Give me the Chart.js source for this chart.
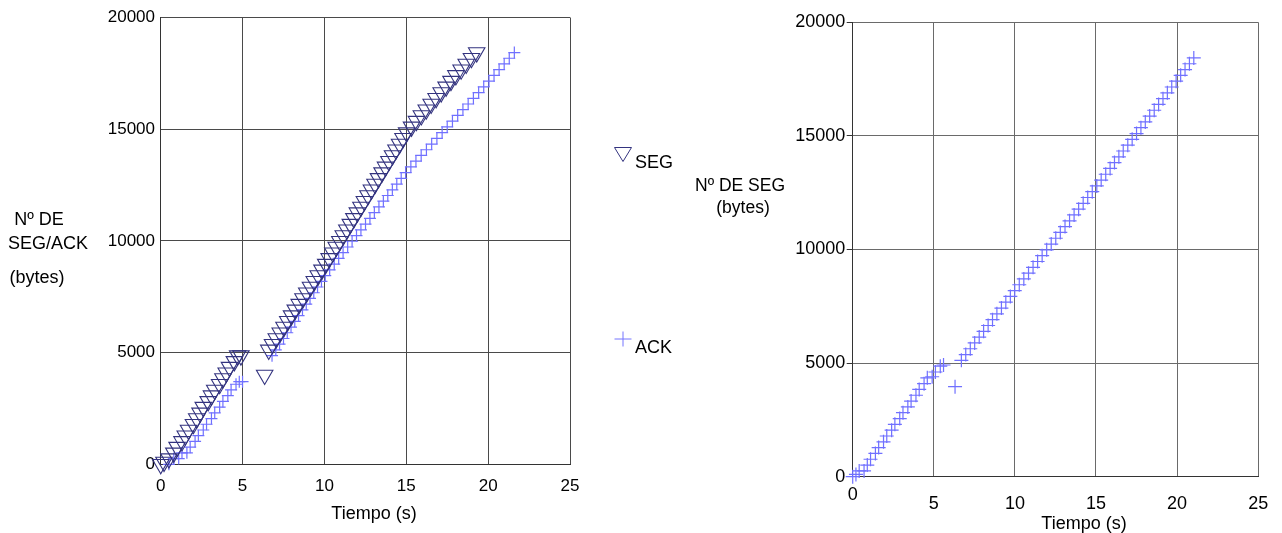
<!DOCTYPE html>
<html>
<head>
<meta charset="utf-8">
<script src="https://cdn.jsdelivr.net/npm/chart.js@4"></script>
<style>
  body { margin: 0; background: #fff; width: 1282px; height: 533px; position: relative; overflow: hidden;
         font-family: "Liberation Sans", Arial, sans-serif; color: #000; }
  canvas { position: absolute; top: 0; }
  .lbl { position: absolute; white-space: nowrap; transform: translate(-50%, -50%); font-size: 18px; line-height: 1; }
  .lft { transform: translate(0, -50%); }
  svg { position: absolute; left: 0; top: 0; }
</style>
</head>
<body>
<canvas id="left" width="600" height="533" style="left:0"></canvas>
<canvas id="right" width="582" height="533" style="left:700px"></canvas>

<!-- axis titles -->
<div class="lbl" style="left:39px; top:219px">Nº DE</div>
<div class="lbl" style="left:48px; top:243px">SEG/ACK</div>
<div class="lbl" style="left:37px; top:277px">(bytes)</div>
<div class="lbl" style="left:374px; top:513px">Tiempo (s)</div>

<div class="lbl lft" style="left:695px; top:186px; font-size:17.5px">Nº DE SEG</div>
<div class="lbl" style="left:743px; top:208px; font-size:17.5px">(bytes)</div>
<div class="lbl" style="left:1084px; top:523px">Tiempo (s)</div>

<!-- legend -->
<svg width="1282" height="533">
  <polygon points="614.5,147.5 631.5,147.5 623,161.5" fill="none" stroke="#33337f" stroke-width="1"/>
  <line x1="614.5" y1="339" x2="631.5" y2="339" stroke="#7474ff" stroke-width="1"/>
  <line x1="623" y1="331.5" x2="623" y2="346.5" stroke="#7474ff" stroke-width="1"/>
</svg>
<div class="lbl lft" style="left:635px; top:162px">SEG</div>
<div class="lbl lft" style="left:635px; top:347px">ACK</div>

<script>
// segments sent (left plot)
const segTime = [
  0.0, 0.2, 0.5, 0.8, 1.0, 1.3, 1.5, 1.7, 2.0, 2.2, 2.4, 2.6, 2.9, 3.1, 3.3, 3.6, 3.8, 4.0, 4.2, 4.5, 4.7, 4.9,
  6.35,
  6.60, 6.83, 7.06, 7.30, 7.53, 7.76, 7.99, 8.22, 8.46, 8.69, 8.92, 9.15, 9.38, 9.62, 9.85, 10.08, 10.29, 10.51,
  10.72, 10.94, 11.15, 11.37, 11.58, 11.80, 12.01, 12.23, 12.44, 12.66, 12.87, 13.09, 13.30, 13.52, 13.73, 13.94,
  14.16, 14.37, 14.59, 14.80, 15.02, 15.32, 15.62, 15.92, 16.22, 16.52, 16.82, 17.13, 17.43, 17.73, 18.03, 18.35,
  18.66, 18.98, 19.30
];
const segBytes = [
  0, 100, 256, 512, 768, 1024, 1280, 1536, 1792, 2048, 2304, 2560, 2816, 3072, 3328, 3584, 3840, 4096, 4352, 4608, 4864, 4864,
  4000,
  5120, 5376, 5632, 5888, 6144, 6400, 6656, 6912, 7168, 7424, 7680, 7936, 8192, 8448, 8704, 8960, 9216, 9472,
  9728, 9984, 10240, 10496, 10752, 11008, 11264, 11520, 11776, 12032, 12288, 12544, 12800, 13056, 13312, 13568,
  13824, 14080, 14336, 14592, 14848, 15104, 15360, 15616, 15872, 16128, 16384, 16640, 16896, 17152, 17408, 17664,
  17920, 18176, 18432
];

// acks received (left plot)
const ackTime = [
  0.5, 0.8, 1.1, 1.3, 1.6, 1.8, 2.1, 2.3, 2.6, 2.8, 3.1, 3.3, 3.6, 3.8, 4.1, 4.3, 4.6, 4.8, 5.0,
  6.80, 7.03, 7.26, 7.50, 7.73, 7.96, 8.19, 8.42, 8.66, 8.89, 9.12, 9.35, 9.58, 9.82, 10.05, 10.32, 10.60, 10.87,
  11.14, 11.42, 11.69, 11.96, 12.23, 12.51, 12.78, 13.05, 13.33, 13.60, 13.87, 14.15, 14.42, 14.69, 14.96, 15.28,
  15.59, 15.91, 16.23, 16.55, 16.87, 17.19, 17.50, 17.82, 18.14, 18.46, 18.78, 19.10, 19.42, 19.73, 20.05, 20.36,
  20.67, 20.98, 21.29, 21.60
];
const ackBytes = [
  0, 256, 256, 512, 512, 768, 1024, 1280, 1536, 1792, 2048, 2304, 2560, 2816, 3072, 3328, 3584, 3700, 3700,
  4864, 5120, 5376, 5632, 5888, 6144, 6400, 6656, 6912, 7168, 7424, 7680, 7936, 8192, 8448, 8704, 8960, 9216,
  9472, 9728, 9984, 10240, 10496, 10752, 11008, 11264, 11520, 11776, 12032, 12288, 12544, 12800, 13056, 13312,
  13568, 13824, 14080, 14336, 14592, 14848, 15104, 15360, 15616, 15872, 16128, 16384, 16640, 16896, 17152, 17408,
  17664, 17920, 18176, 18432
];

// second run, segments only (right plot)
const runTime = [
  0.0, 0.2, 0.4, 0.7, 0.9, 1.1, 1.4, 1.6, 1.9, 2.1, 2.4, 2.6, 2.9, 3.1, 3.4, 3.6, 3.9, 4.1, 4.4, 4.6, 4.9, 5.1, 5.4, 5.6,
  6.31,
  6.70, 6.97, 7.25, 7.52, 7.80, 8.07, 8.35, 8.62, 8.89, 9.17, 9.44, 9.72, 9.99, 10.27, 10.55, 10.84, 11.12, 11.40,
  11.68, 11.96, 12.24, 12.52, 12.80, 13.09, 13.37, 13.65, 13.93, 14.21, 14.49, 14.77, 15.05, 15.32, 15.60, 15.87,
  16.14, 16.41, 16.68, 16.96, 17.23, 17.50, 17.77, 18.04, 18.31, 18.59, 18.86, 19.13, 19.40, 19.67, 19.94, 20.22,
  20.49, 20.76, 21.03
];
const runBytes = [
  0, 100, 256, 256, 512, 768, 1024, 1280, 1536, 1792, 2048, 2304, 2560, 2816, 3072, 3328, 3584, 3840, 4096, 4352, 4400, 4608, 4864, 4916,
  3961,
  5120, 5376, 5632, 5888, 6144, 6400, 6656, 6912, 7168, 7424, 7680, 7936, 8192, 8448, 8704, 8960, 9216, 9472,
  9728, 9984, 10240, 10496, 10752, 11008, 11264, 11520, 11776, 12032, 12288, 12544, 12800, 13056, 13312, 13568,
  13824, 14080, 14336, 14592, 14848, 15104, 15360, 15616, 15872, 16128, 16384, 16640, 16896, 17152, 17408, 17664,
  17920, 18176, 18432
];

const xTicks = [0, 5, 10, 15, 20, 25];
const yTicks = [0, 5000, 10000, 15000, 20000];

const SEG_COLOR = '#33337f';
const ACK_COLOR = '#7070ff';

Chart.defaults.font.family = "'Liberation Sans', Arial, sans-serif";
Chart.defaults.color = '#000';

function pts(xs, ys) {
  return xs.map((x, i) => ({ x: x, y: ys[i] }));
}

function segSet(xs, ys) {
  return {
    label: 'SEG', data: pts(xs, ys), clip: false, showLine: false,
    pointStyle: 'triangle', pointRotation: 180, pointRadius: 9.5,
    pointBorderColor: SEG_COLOR, pointBackgroundColor: 'rgba(0,0,0,0)', pointBorderWidth: 1.1
  };
}

function ackSet(xs, ys, r) {
  return {
    label: 'ACK', data: pts(xs, ys), clip: false, showLine: false,
    pointStyle: 'cross', pointRadius: r,
    pointBorderColor: ACK_COLOR, pointBackgroundColor: ACK_COLOR, pointBorderWidth: 1.2
  };
}

function makeChart(id, datasets, geo) {
  return new Chart(document.getElementById(id), {
    type: 'scatter',
    data: { datasets: datasets },
    options: {
      responsive: false,
      animation: false,
      events: [],
      layout: { padding: { top: geo.top, right: geo.right, bottom: 0, left: 0 } },
      plugins: { legend: { display: false }, tooltip: { enabled: false } },
      scales: {
        x: {
          type: 'linear', min: xTicks[0], max: xTicks[xTicks.length - 1],
          afterBuildTicks: s => { s.ticks = xTicks.map(v => ({ value: v })); },
          ticks: {
            maxRotation: 0, autoSkip: false, padding: geo.xPad,
            font: geo.xFont,
            callback: geo.xLabel
          },
          grid: { color: geo.grid, drawTicks: false },
          border: { color: '#333' },
          afterFit: s => { s.height = geo.xHeight; }
        },
        y: {
          type: 'linear', min: yTicks[0], max: yTicks[yTicks.length - 1],
          afterBuildTicks: s => { s.ticks = yTicks.map(v => ({ value: v })); },
          ticks: { padding: geo.yPad, font: geo.yFont, callback: v => String(v) },
          grid: { color: geo.grid, drawTicks: geo.yTickLen > 0, tickLength: geo.yTickLen, tickColor: '#333' },
          border: { color: '#333' },
          afterFit: s => { s.width = geo.yWidth; }
        }
      }
    }
  });
}

makeChart('left', [segSet(segTime, segBytes), ackSet(ackTime, ackBytes, 6)], {
  top: 17.5, right: 30, xHeight: 68.7, yWidth: 160.7,
  xPad: 11.5, yPad: 5.7, yTickLen: 0, grid: '#4a4a4a',
  xFont: { size: 17 }, yFont: { size: 17 },
  xLabel: v => String(v)
});

// the 0 label sits higher than the rest on this axis
makeChart('right', [ackSet(runTime, runBytes, 7)], {
  top: 22.3, right: 23.7, xHeight: 56.3, yWidth: 152.7,
  xPad: 13.8, yPad: 1.5, yTickLen: 6, grid: '#6a6a6a',
  xFont: { size: 18, lineHeight: 0.5 }, yFont: { size: 18 },
  xLabel: v => v === 0 ? '0' : ['', String(v)]
});
</script>
</body>
</html>
